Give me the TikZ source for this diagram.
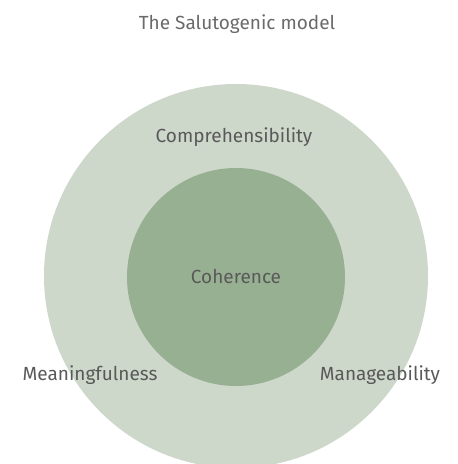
\documentclass[tikz,border=0pt]{standalone}
\usepackage{fontspec}
\setmainfont{Fira Sans}
\definecolor{outerc}{HTML}{CDD8CB}
\definecolor{innerc}{HTML}{98B092}
\definecolor{titlec}{HTML}{6A6A6A}
\definecolor{labc}{HTML}{595959}
\begin{document}
\begin{tikzpicture}[x=1pt,y=-1pt,
  lab/.style={text=labc,font=\fontsize{19}{22}\selectfont,inner sep=0pt}]
\useasboundingbox (0,0) rectangle (458,464);
\begin{scope}
\clip (0,0) rectangle (458,464);
\fill[outerc] (236,276) circle[radius=192];
\fill[innerc] (236,277) circle[radius=109];
\end{scope}
\node[lab,text=titlec] (title) at (237,24) {The Salutogenic model};
\node[lab] (comp) at (234,137) {Comprehensibility};
\node[lab] (coh) at (236,277) {Coherence};
\node[lab] (mean) at (90,375) {Meaningfulness};
\node[lab] (man) at (380,375) {Manageability};
\end{tikzpicture}
\end{document}
